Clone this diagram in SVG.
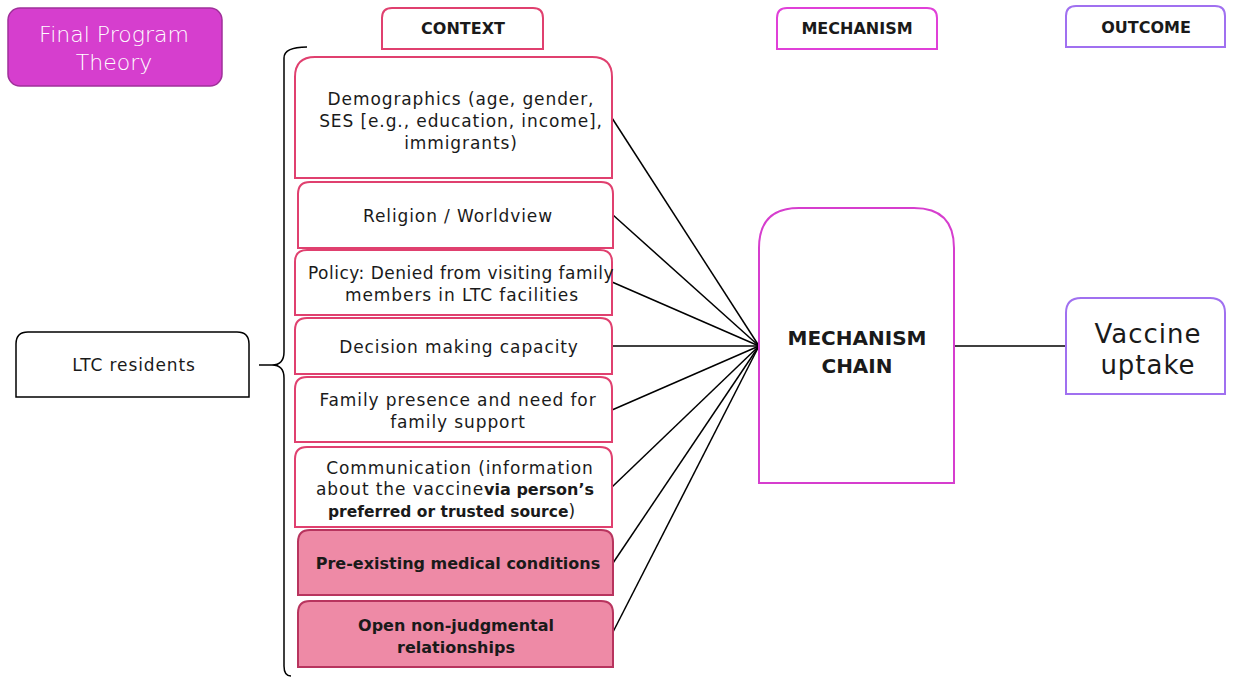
<svg xmlns="http://www.w3.org/2000/svg" width="1233" height="678" viewBox="0 0 1233 678">
  <style>
    text { font-family: "DejaVu Sans", "Liberation Sans", sans-serif; fill: #1a1a1a; text-anchor: middle; }
    .ctx { fill: #ffffff; stroke: #e0406f; stroke-width: 2; }
    .ctx-hi { fill: #ee8aa6; stroke: #b8345e; stroke-width: 2; }
    .body { font-size: 17px; letter-spacing: 0.9px; }
    .bold { font-size: 16px; font-weight: bold; letter-spacing: 0; }
    .hdr { font-size: 16px; font-weight: bold; }
    .link { stroke: #000000; stroke-width: 1.5; fill: none; }
  </style>

  <!-- title badge -->
  <g id="title">
    <rect x="8" y="8" width="214" height="78" rx="12" fill="#d63ece" stroke="#a0309a" stroke-width="1.5"/>
    <text x="114" y="42" style="font-size:22px;fill:#ffffff;font-weight:300">Final Program</text>
    <text x="114" y="70" style="font-size:22px;fill:#ffffff;font-weight:300">Theory</text>
  </g>

  <!-- column headers -->
  <g id="hdr-context">
    <path d="M382,49 V18 Q382,8 392,8 H533 Q543,8 543,18 V49 Z" fill="#fff" stroke="#e0406f" stroke-width="2"/>
    <text class="hdr" x="463" y="34">CONTEXT</text>
  </g>
  <g id="hdr-mechanism">
    <path d="M777,49 V18 Q777,8 787,8 H927 Q937,8 937,18 V49 Z" fill="#fff" stroke="#e040d8" stroke-width="2"/>
    <text class="hdr" x="857" y="34">MECHANISM</text>
  </g>
  <g id="hdr-outcome">
    <path d="M1066,47 V16 Q1066,6 1076,6 H1215 Q1225,6 1225,16 V47 Z" fill="#fff" stroke="#a070f0" stroke-width="2"/>
    <text class="hdr" x="1146" y="33">OUTCOME</text>
  </g>

  <!-- population -->
  <g id="ltc-residents">
    <path d="M16,397 V344 Q16,332 28,332 H237 Q249,332 249,344 V397 Z" fill="#fff" stroke="#000" stroke-width="1.5"/>
    <text class="body" x="134" y="371">LTC residents</text>
  </g>

  <!-- brace grouping the context factors -->
  <g id="brace">
    <path class="link" d="M307,47 Q284,47 284,58 V352 Q284,365 272,365 H259 M272,365 Q284,365 284,378 V666 Q284,676 291,676"/>
  </g>

  <!-- connectors -->
  <g id="connectors">
    <line class="link" x1="612" y1="118" x2="759" y2="346"/>
    <line class="link" x1="613" y1="215" x2="759" y2="346"/>
    <line class="link" x1="612" y1="282" x2="759" y2="346"/>
    <line class="link" x1="612" y1="346" x2="759" y2="346"/>
    <line class="link" x1="612" y1="410" x2="759" y2="346"/>
    <line class="link" x1="612" y1="487" x2="759" y2="346"/>
    <line class="link" x1="613" y1="563" x2="759" y2="346"/>
    <line class="link" x1="613" y1="632" x2="759" y2="346"/>
    <line class="link" x1="955" y1="346" x2="1066" y2="346"/>
  </g>

  <!-- context factors -->
  <g id="ctx-demographics">
    <path class="ctx" d="M295,178 V77 Q295,57 315,57 H592 Q612,57 612,77 V178 Z"/>
    <text class="body" x="461" y="105">Demographics (age, gender,</text>
    <text class="body" x="461" y="127">SES [e.g., education, income],</text>
    <text class="body" x="461" y="149">immigrants)</text>
  </g>
  <g id="ctx-religion">
    <path class="ctx" d="M298,248 V194 Q298,182 310,182 H601 Q613,182 613,194 V248 Z"/>
    <text class="body" x="458" y="222">Religion / Worldview</text>
  </g>
  <g id="ctx-policy">
    <path class="ctx" d="M295,315 V262 Q295,250 307,250 H600 Q612,250 612,262 V315 Z"/>
    <text class="body" x="461" y="279" style="letter-spacing:0.5px">Policy: Denied from visiting family</text>
    <text class="body" x="462" y="301">members in LTC facilities</text>
  </g>
  <g id="ctx-decision">
    <path class="ctx" d="M295,374 V330 Q295,318 307,318 H600 Q612,318 612,330 V374 Z"/>
    <text class="body" x="459" y="353">Decision making capacity</text>
  </g>
  <g id="ctx-family">
    <path class="ctx" d="M295,442 V389 Q295,377 307,377 H600 Q612,377 612,389 V442 Z"/>
    <text class="body" x="458" y="406">Family presence and need for</text>
    <text class="body" x="458" y="428">family support</text>
  </g>
  <g id="ctx-communication">
    <path class="ctx" d="M295,527 V459 Q295,447 307,447 H600 Q612,447 612,459 V527 Z"/>
    <text class="body" x="460" y="474">Communication (information</text>
    <text class="body" x="455" y="495">about the vaccine<tspan class="bold">via person’s</tspan></text>
    <text class="body" x="452" y="517"><tspan class="bold" style="font-size:15.5px">preferred or trusted source</tspan>)</text>
  </g>
  <g id="ctx-preexisting">
    <path class="ctx-hi" d="M298,595 V542 Q298,530 310,530 H601 Q613,530 613,542 V595 Z"/>
    <text class="bold" x="458" y="569">Pre-existing medical conditions</text>
  </g>
  <g id="ctx-open">
    <path class="ctx-hi" d="M298,667 V613 Q298,601 310,601 H601 Q613,601 613,613 V667 Z"/>
    <text class="bold" x="456" y="631">Open non-judgmental</text>
    <text class="bold" x="456" y="653">relationships</text>
  </g>

  <!-- mechanism -->
  <g id="mechanism-chain">
    <path d="M759,483 V248 Q759,208 799,208 H914 Q954,208 954,248 V483 Z" fill="#fff" stroke="#d63ece" stroke-width="2"/>
    <text x="857" y="345" style="font-size:20px;font-weight:bold">MECHANISM</text>
    <text x="857" y="373" style="font-size:20px;font-weight:bold">CHAIN</text>
  </g>

  <!-- outcome -->
  <g id="vaccine-uptake">
    <path d="M1066,394 V313 Q1066,298 1081,298 H1210 Q1225,298 1225,313 V394 Z" fill="#fff" stroke="#a070f0" stroke-width="2"/>
    <text x="1148" y="343" style="font-size:26px;letter-spacing:1px">Vaccine</text>
    <text x="1148" y="374" style="font-size:26px;letter-spacing:1px">uptake</text>
  </g>
</svg>
